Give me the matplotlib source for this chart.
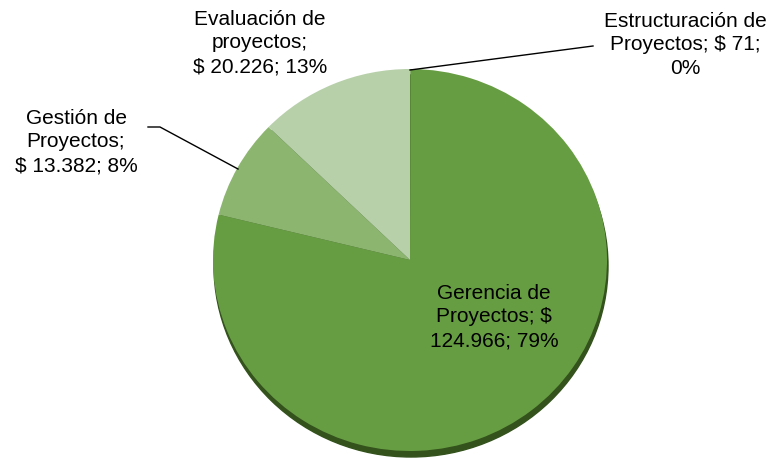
import matplotlib
matplotlib.use("Agg")
import matplotlib.pyplot as plt

categories = ["Estructuración de\nProyectos; $ 71;\n0%",
              "Gerencia de\nProyectos; $\n124.966; 79%",
              "Gestión de\nProyectos;\n$ 13.382; 8%",
              "Evaluación de\nproyectos;\n$ 20.226; 13%"]
values = [71, 124966, 13382, 20226]
colors = ["#5f8f3a", "#679d42", "#8cb670", "#b7d0aa"]

plt.rcParams['font.family'] = ['Liberation Sans', 'DejaVu Sans']

W, H = 770, 460
rx, ry = 197, 191
s = rx / ry


def Y(py):
    return (H - py) * s


fig = plt.figure(figsize=(W / 100, H / 100), dpi=100)
ax = fig.add_axes([0, 0, 1, 1])

cx, cy = 410, Y(261)

# shadow / depth
shadow = matplotlib.patches.Ellipse((cx + 1, cy - 6 * s), 2 * rx, 2 * rx, color="#33521c", zorder=0)
ax.add_patch(shadow)

wedges, _ = ax.pie(values, colors=colors, startangle=90, counterclock=False,
                   center=(cx, cy), radius=rx, frame=True,
                   wedgeprops=dict(linewidth=0))
for w in wedges:
    w.set_zorder(1)
ax.set_aspect('auto')
ax.set_xlim(0, W)
ax.set_ylim(0, H * s)
ax.axis('off')

fs = 15
ls = 1.33
ax.text(685, Y(45), categories[0], ha='center', va='center', fontsize=fs, linespacing=ls, zorder=3)
ax.text(494, Y(317), categories[1], ha='center', va='center', fontsize=fs, linespacing=ls, zorder=3)
ax.text(76, Y(142), categories[2], ha='center', va='center', fontsize=fs, linespacing=ls, zorder=3)
ax.text(260, Y(43), categories[3], ha='center', va='center', fontsize=fs, linespacing=ls, zorder=3)

# leader lines
ax.plot([410, 593], [Y(71), Y(47)], color='black', lw=1, zorder=3)
ax.plot([148, 160, 238], [Y(128), Y(128), Y(170)], color='black', lw=1, zorder=3)

fig.savefig("out.png", dpi=100)
